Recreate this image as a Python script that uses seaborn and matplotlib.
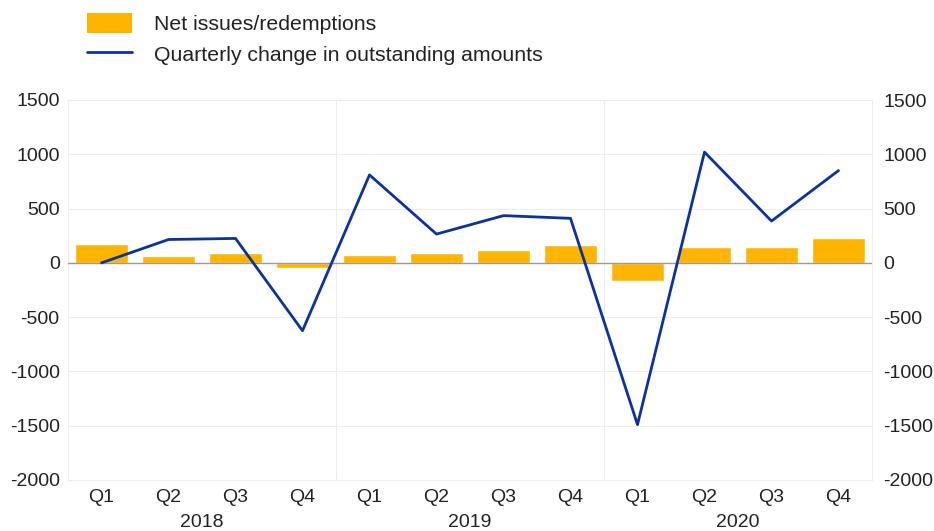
import numpy as np
import pandas as pd
import matplotlib
matplotlib.use("Agg")
import matplotlib.pyplot as plt
import seaborn as sns
from matplotlib.patches import Patch
from matplotlib.lines import Line2D

quarters = ["Q1", "Q2", "Q3", "Q4"] * 3
years = ["2018", "2019", "2020"]
net_issues = [170, 60, 95, -45, 75, 95, 120, 165, -170, 150, 145, 225]
quarterly_change = [0, 215, 225, -625, 810, 265, 435, 410, -1490, 1020, 385, 850]
yticks = [-2000, -1500, -1000, -500, 0, 500, 1000, 1500]

bar_color = "#FFB400"
line_color = "#0B3399"
text_color = "#222222"
fs = 14

sns.set_theme(style="white")
plt.rcParams["font.family"] = ["Liberation Sans", "DejaVu Sans"]

labels = [f"{y} {q}" for y in years for q in ["Q1", "Q2", "Q3", "Q4"]]
df = pd.DataFrame({"label": labels, "quarter": quarters,
                   "net": net_issues, "change": quarterly_change,
                   "pos": np.arange(len(labels))})

fig = plt.figure(figsize=(9.34, 5.31), dpi=100)
ax = fig.add_axes([68 / 934, 51 / 531, 804 / 934, 380 / 531])

for v in yticks:
    ax.axhline(v, color="#EDEDED", lw=0.8, zorder=0)
for xv in [3.5, 7.5]:
    ax.axvline(xv, color="#EDEDED", lw=0.8, zorder=0)

sns.barplot(data=df, x="label", y="net", color=bar_color, width=0.8,
            saturation=1, ax=ax, zorder=2)
ax.axhline(0, color="#9A9A9A", lw=1.0, zorder=3)
sns.lineplot(data=df, x="pos", y="change", color=line_color, lw=2.0,
             ax=ax, zorder=4, sort=False)
ax.set_xlim(-0.5, 11.5)
ax.set_ylim(-2000, 1500)

ax.set_xticks(range(12))
ax.set_xticklabels(quarters, fontsize=fs, color=text_color)
ax.set_yticks(yticks)
ax.set_yticklabels([str(v) for v in yticks], fontsize=fs, color=text_color)
ax.tick_params(axis="x", length=0, pad=6.5)
ax.tick_params(axis="y", length=0, pad=6)
ax.set_xlabel("")
ax.set_ylabel("")
for s in ax.spines.values():
    s.set_color("#EDEDED")
    s.set_linewidth(0.8)

for i, y in enumerate(years):
    ax.text(i * 4 + 1.5, -0.112, y, transform=ax.get_xaxis_transform(),
            ha="center", va="center", fontsize=fs, color=text_color)

ax2 = ax.twinx()
ax2.set_ylim(-2000, 1500)
ax2.set_yticks(yticks)
ax2.set_yticklabels([str(v) for v in yticks], fontsize=fs, color=text_color)
ax2.tick_params(axis="y", length=0, pad=8)
for s in ax2.spines.values():
    s.set_visible(False)
ax2.grid(False)

handles = [Patch(facecolor=bar_color, edgecolor="none"),
           Line2D([0], [0], color=line_color, lw=2.0)]
fig.legend(handles, ["Net issues/redemptions",
                     "Quarterly change in outstanding amounts"],
           loc="upper left", bbox_to_anchor=(87 / 934, 1 - 13 / 531),
           frameon=False, borderpad=0, borderaxespad=0,
           fontsize=15.3, handlelength=2.1, handleheight=1.1,
           handletextpad=1.05, labelspacing=0.42, labelcolor=text_color)

fig.savefig("out.png", dpi=100)
